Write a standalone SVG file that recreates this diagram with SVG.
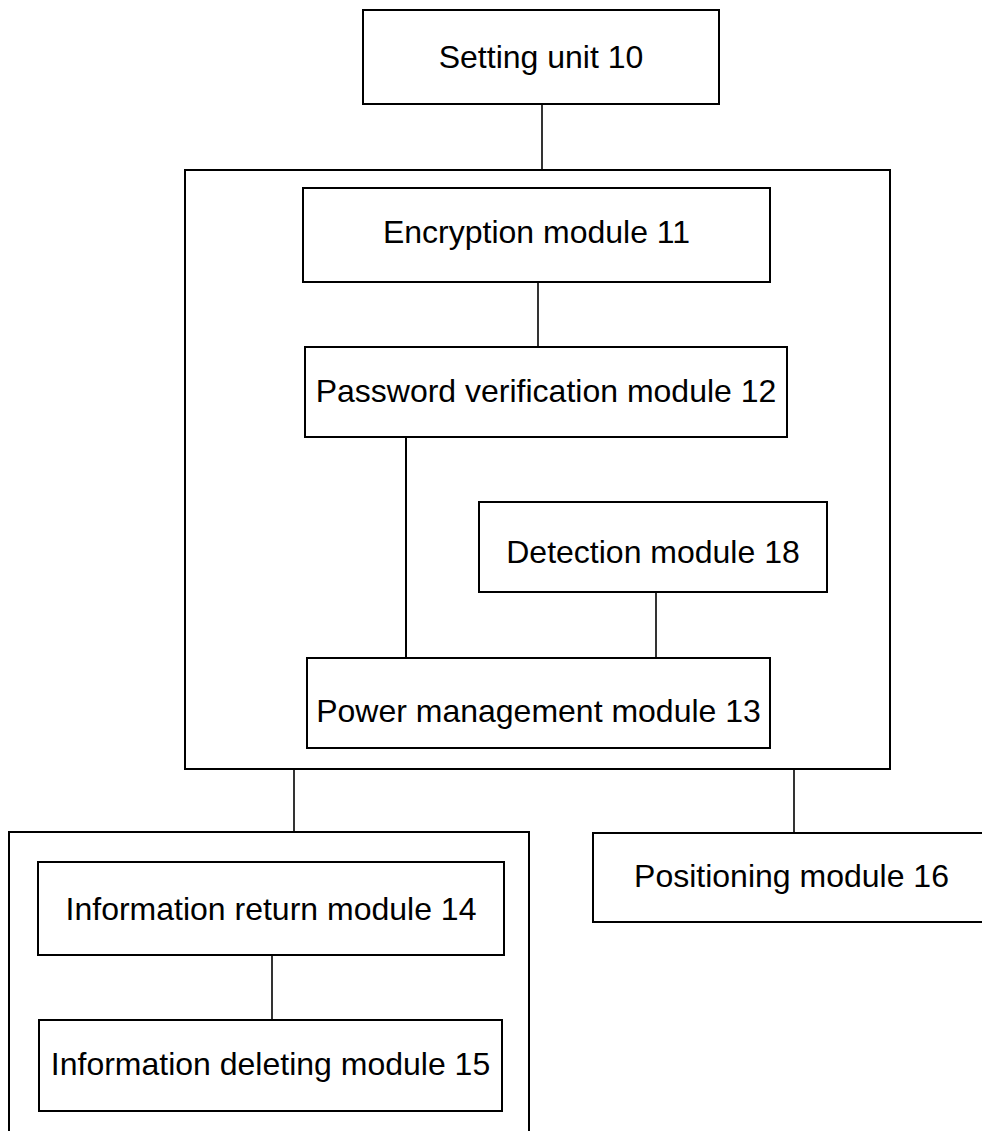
<svg xmlns="http://www.w3.org/2000/svg" width="982" height="1131" viewBox="0 0 982 1131">
<style>
rect{fill:none;stroke:#000;stroke-width:2}
line{stroke:#000;stroke-width:1.6}
text{font-family:"Liberation Sans",Arial,sans-serif;font-size:32px;fill:#000;text-anchor:middle}
</style>
<rect x="0" y="0" width="982" height="1131" style="fill:#fff;stroke:none"/>
<g id="connectors">
<line x1="542" y1="104" x2="542" y2="170"/>
<line x1="538" y1="282" x2="538" y2="347"/>
<line x1="406" y1="437" x2="406" y2="658" style="stroke-width:2"/>
<line x1="656" y1="592" x2="656" y2="658"/>
<line x1="294" y1="769" x2="294" y2="832"/>
<line x1="794" y1="769" x2="794" y2="833"/>
<line x1="272" y1="955" x2="272" y2="1020"/>
</g>
<g id="setting-unit-10">
<rect x="363" y="10" width="356" height="94"/>
<text x="541" y="68">Setting unit 10</text>
</g>
<g id="unit-container">
<rect x="185" y="170" width="705" height="599"/>
</g>
<g id="encryption-module-11">
<rect x="303" y="188" width="467" height="94"/>
<text x="536.5" y="243">Encryption module 11</text>
</g>
<g id="password-verification-module-12">
<rect x="305" y="347" width="482" height="90"/>
<text x="546" y="402">Password verification module 12</text>
</g>
<g id="detection-module-18">
<rect x="479" y="502" width="348" height="90"/>
<text x="653" y="563">Detection module 18</text>
</g>
<g id="power-management-module-13">
<rect x="307" y="658" width="463" height="90"/>
<text x="538.5" y="722">Power management module 13</text>
</g>
<g id="info-container">
<rect x="9" y="832" width="520" height="310"/>
</g>
<g id="information-return-module-14">
<rect x="38" y="862" width="466" height="93"/>
<text x="271" y="920">Information return module 14</text>
</g>
<g id="information-deleting-module-15">
<rect x="39" y="1020" width="463" height="91"/>
<text x="270.5" y="1075">Information deleting module 15</text>
</g>
<g id="positioning-module-16">
<rect x="593" y="833" width="400" height="89"/>
<text x="791.5" y="887">Positioning module 16</text>
</g>
</svg>
